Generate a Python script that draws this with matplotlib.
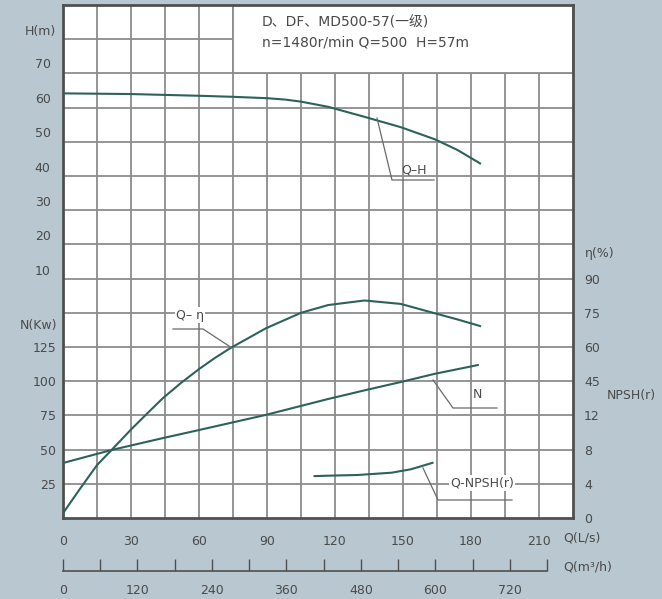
import numpy as np
import matplotlib
matplotlib.use("Agg")
import matplotlib.pyplot as plt
from matplotlib.patches import Rectangle
from matplotlib.lines import Line2D

plt.rcParams['font.family'] = ['DejaVu Sans', 'Noto Sans CJK SC']

# curves, Q in L/s
q_h = [0, 30, 60, 75, 90, 98, 105, 117, 133, 149, 164, 174, 184]
head = [61.2, 61.0, 60.5, 60.2, 59.8, 59.4, 58.8, 57.3, 54.4, 51.4, 47.9, 44.8, 40.9]

q_eff = [0, 7.5, 15, 21.4, 30, 37, 44, 52, 60, 67, 74, 89.5, 105, 117, 133, 149, 164, 174, 184]
eff = [-12.9, -2.2, 8.2, 14.8, 23.8, 30.7, 37.5, 44.2, 50.3, 55.2, 59.6, 68.2, 75.0, 78.4,
       80.4, 78.9, 74.8, 72.1, 69.2]

q_n = [0, 21.4, 44.3, 60, 89.3, 117, 133, 149, 164, 183]
power = [40.2, 49.7, 58.5, 64.3, 75.3, 87.0, 93.3, 99.4, 105.4, 111.8]

q_npsh = [111, 117, 130, 145, 153.5, 163]
npsh = [4.9, 4.95, 5.03, 5.3, 5.7, 6.45]

q_ticks = [0, 30, 60, 90, 120, 150, 180, 210]
qm3_ticks = [0, 120, 240, 360, 480, 600, 720]
h_ticks = [10, 20, 30, 40, 50, 60, 70]
n_ticks = [25, 50, 75, 100, 125]
eff_ticks = [45, 60, 75, 90]
npsh_ticks = [0, 4, 8, 12]

title1 = "D、DF、MD500-57(一级)"
title2 = "n=1480r/min Q=500  H=57m"

BG = '#b9c7d0'
GRID = '#8c8c8c'
SPINE = '#505050'
CURVE = '#2c625a'
TXT = '#4a4a4a'
FS = 9

W, H = 662, 599
fig = plt.figure(figsize=(W / 100, H / 100), dpi=100)
fig.patch.set_facecolor(BG)


def fx(x):
    return x / W


def fy(y):
    return 1 - y / H


L, R, T, B = 63, 573, 5, 518
ax = fig.add_axes([fx(L), fy(B), (R - L) / W, (B - T) / H])
ax.set_facecolor('white')
ax.set_xlim(0, 225)
ax.set_ylim(0, 375)
ax.set_xticks(q_ticks)
ax.set_xticks(np.arange(15, 225, 30), minor=True)
ax.set_yticks(n_ticks)
ax.set_yticks(np.arange(150, 375, 25), minor=True)
ax.set_axisbelow(True)
ax.grid(which='both', color=GRID, lw=1.3)
ax.tick_params(which='both', length=0, labelsize=FS, labelcolor=TXT)
ax.tick_params(axis='x', pad=12)
ax.tick_params(axis='y', pad=5)
for s in ax.spines.values():
    s.set_color(SPINE)
    s.set_linewidth(2)

# white box behind the title
ax.add_patch(Rectangle((75, 325), 150, 50, facecolor='white', edgecolor=GRID,
                       lw=1.3, zorder=1))

# head axis, left
axH = ax.twinx()
axH.yaxis.tick_left()
axH.set_ylim(70 - (B - 63) / 3.45, 70 + (63 - T) / 3.45)
axH.set_yticks(h_ticks)
axH.tick_params(length=0, labelsize=FS, labelcolor=TXT, pad=9)

# efficiency axis, right
axE = ax.twinx()
axE.set_ylim(-15, 210)
axE.set_yticks(eff_ticks)
axE.tick_params(length=0, labelsize=FS, labelcolor=TXT, pad=8)

# NPSH axis, right
axP = ax.twinx()
axP.set_ylim(0, 60)
axP.set_yticks(npsh_ticks)
axP.tick_params(length=0, labelsize=FS, labelcolor=TXT, pad=8)

for a in (axH, axE, axP):
    for s in a.spines.values():
        s.set_visible(False)

axH.plot(q_h, head, color=CURVE, lw=1.5)
axE.plot(q_eff, eff, color=CURVE, lw=1.5)
ax.plot(q_n, power, color=CURVE, lw=1.5, zorder=3)
axP.plot(q_npsh, npsh, color=CURVE, lw=1.5)

# second flow scale in m3/h
axm = fig.add_axes([fx(63), fy(571), 484 / W, 0.001])
axm.patch.set_visible(False)
axm.set_xlim(0, 780)
axm.set_ylim(0, 1)
axm.set_yticks([])
axm.set_xticks(qm3_ticks)
axm.set_xticks(np.arange(60, 781, 120), minor=True)
for k in ('top', 'left', 'right'):
    axm.spines[k].set_visible(False)
axm.spines['bottom'].set_color(SPINE)
axm.spines['bottom'].set_linewidth(1.2)
axm.tick_params(which='both', direction='in', length=9, width=1, color=SPINE,
                labelsize=FS, labelcolor=TXT, pad=9)

# axis names
fig.text(fx(56), fy(32), "H(m)", ha='right', va='center', fontsize=FS, color=TXT)
fig.text(fx(57), fy(325), "N(Kw)", ha='right', va='center', fontsize=FS, color=TXT)
fig.text(fx(585), fy(253), "η(%)", ha='left', va='center', fontsize=FS, color=TXT)
fig.text(fx(607), fy(395), "NPSH(r)", ha='left', va='center', fontsize=FS, color=TXT)
fig.text(fx(563), fy(538), "Q(L/s)", ha='left', va='center', fontsize=FS, color=TXT)
fig.text(fx(563), fy(567), "Q(m³/h)", ha='left', va='center', fontsize=FS, color=TXT)

# title
fig.text(fx(262), fy(22), title1, ha='left', va='center', fontsize=10, color=TXT)
fig.text(fx(262), fy(43), title2, ha='left', va='center', fontsize=10, color=TXT)


def leader(pts):
    xs = [fx(p[0]) for p in pts]
    ys = [fy(p[1]) for p in pts]
    fig.add_artist(Line2D(xs, ys, transform=fig.transFigure, color='#6a6a6a', lw=0.9))


box = dict(facecolor='white', edgecolor='none', pad=1)
leader([(377, 118), (392, 180), (434, 180)])
fig.text(fx(414), fy(170), "Q–H", ha='center', va='center', fontsize=FS, color=TXT)

leader([(173, 329), (203, 329), (232, 348)])
fig.text(fx(190), fy(315), "Q– η", ha='center', va='center', fontsize=FS, color=TXT, bbox=box)

leader([(433, 380), (453, 408), (497, 408)])
fig.text(fx(477), fy(394), "N", ha='center', va='center', fontsize=FS, color=TXT)

leader([(423, 468), (438, 500), (512, 500)])
fig.text(fx(482), fy(483), "Q-NPSH(r)", ha='center', va='center', fontsize=FS, color=TXT, bbox=box)

fig.savefig("out.png", dpi=100, facecolor=BG)
